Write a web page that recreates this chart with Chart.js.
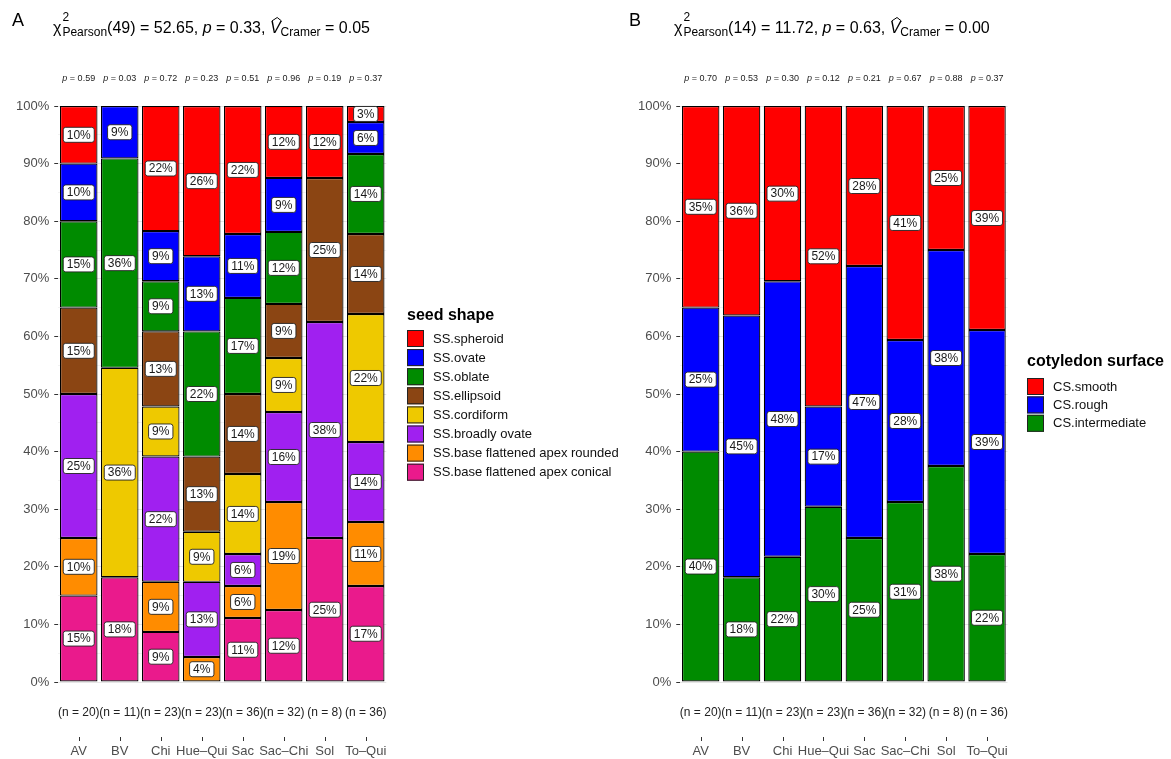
<!DOCTYPE html>
<html>
<head>
<meta charset="utf-8">
<script src="https://cdn.jsdelivr.net/npm/chart.js@4/dist/chart.umd.min.js"></script>
<style>
body { margin: 0; background: #fff; }
#wrap { position: relative; width: 1171px; height: 759px; }
canvas { position: absolute; top: 0; }
</style>
</head>
<body>
<div id="wrap">
    <canvas id="chartA" width="660" height="759" style="left:0px"></canvas>
    <canvas id="chartB" width="571" height="759" style="left:600px"></canvas>
</div>
<script>
// categories + per-site info
var sites = ['AV', 'BV', 'Chi', 'Hue–Qui', 'Sac', 'Sac–Chi', 'Sol', 'To–Qui'];
var sampleSizes = [20, 11, 23, 23, 36, 32, 8, 36];
var pShape = ['0.59', '0.03', '0.72', '0.23', '0.51', '0.96', '0.19', '0.37'];
var pSurface = ['0.70', '0.53', '0.30', '0.12', '0.21', '0.67', '0.88', '0.37'];

// seed shape (% per site), listed top of stack -> bottom
var shapeNames = ['SS.spheroid', 'SS.ovate', 'SS.oblate', 'SS.ellipsoid', 'SS.cordiform',
    'SS.broadly ovate', 'SS.base flattened apex rounded', 'SS.base flattened apex conical'];
var shapeColors = ['#ff0000', '#0000ff', '#008b00', '#8b4513', '#eec900', '#a020f0', '#ff8c00', '#ea1a8c'];
var ssSpheroid  = [10, 0, 21.74, 26.09, 22.22, 12.5, 12.5, 2.78];
var ssOvate     = [10, 9.09, 8.70, 13.04, 11.11, 9.38, 0, 5.56];
var ssOblate    = [15, 36.36, 8.70, 21.74, 16.67, 12.5, 0, 13.89];
var ssEllipsoid = [15, 0, 13.04, 13.04, 13.89, 9.38, 25, 13.89];
var ssCordiform = [0, 36.36, 8.70, 8.70, 13.89, 9.38, 0, 22.22];
var ssBroadly   = [25, 0, 21.74, 13.04, 5.56, 15.63, 37.5, 13.89];
var ssRounded   = [10, 0, 8.70, 4.35, 5.56, 18.75, 0, 11.11];
var ssConical   = [15, 18.18, 8.70, 0, 11.11, 12.5, 25, 16.67];

// cotyledon surface (% per site), top -> bottom
var surfNames = ['CS.smooth', 'CS.rough', 'CS.intermediate'];
var surfColors = ['#ff0000', '#0000ff', '#008b00'];
var csSmooth       = [35, 36.36, 30.43, 52.17, 27.78, 40.63, 25, 38.89];
var csRough        = [25, 45.45, 47.83, 17.39, 47.22, 28.13, 37.5, 38.89];
var csIntermediate = [40, 18.18, 21.74, 30.43, 25, 31.25, 37.5, 22.22];

var FONT = '"Liberation Sans", Arial, Helvetica, sans-serif';
Chart.defaults.font.family = FONT;

// R style rounding (half to even)
function pctLabel(v) {
    var f = Math.floor(v);
    var r = Math.round(v);
    if (Math.abs(v - f - 0.5) < 1e-9) {
        r = (f % 2 === 0) ? f : f + 1;
    }
    return r + '%';
}

function drawBarLabels(chart) {
    var ctx = chart.ctx;
    ctx.save();
    ctx.font = '12px ' + FONT;
    ctx.textAlign = 'center';
    ctx.textBaseline = 'middle';
    chart.data.datasets.forEach(function(ds, i) {
        var meta = chart.getDatasetMeta(i);
        meta.data.forEach(function(bar, j) {
            var v = ds.data[j];
            if (!v) return;
            var txt = pctLabel(v);
            var cy = (bar.y + bar.base) / 2;
            var w = ctx.measureText(txt).width + 7;
            var h = 15;
            ctx.beginPath();
            ctx.roundRect(bar.x - w / 2, cy - h / 2, w, h, 2.5);
            ctx.fillStyle = '#fff';
            ctx.fill();
            ctx.lineWidth = 0.9;
            ctx.strokeStyle = '#222';
            ctx.stroke();
            ctx.fillStyle = '#1a1a1a';
            ctx.fillText(txt, bar.x, cy + 0.5);
        });
    });
    ctx.restore();
}

function drawTitle(ctx, x, y, df, stat, p, v) {
    var big = '16px ' + FONT, small = '12px ' + FONT, bigIt = 'italic 16px ' + FONT;
    ctx.fillStyle = '#000';
    ctx.textAlign = 'left';
    ctx.textBaseline = 'alphabetic';
    ctx.font = big;
    ctx.fillText('χ', x, y);
    x += ctx.measureText('χ').width + 1;
    ctx.font = small;
    ctx.fillText('2', x, y - 12);
    ctx.fillText('Pearson', x, y + 3);
    x += ctx.measureText('Pearson').width;
    ctx.font = big;
    var s = '(' + df + ') = ' + stat + ', ';
    ctx.fillText(s, x, y);
    x += ctx.measureText(s).width;
    ctx.font = bigIt;
    ctx.fillText('p', x, y);
    x += ctx.measureText('p').width;
    ctx.font = big;
    s = ' = ' + p + ', ';
    ctx.fillText(s, x, y);
    x += ctx.measureText(s).width;
    ctx.font = bigIt;
    ctx.fillText('V', x, y);
    var vw = ctx.measureText('V').width;
    // hat over V
    ctx.beginPath();
    ctx.moveTo(x + 2, y - 12);
    ctx.lineTo(x + vw / 2 + 2, y - 15.5);
    ctx.lineTo(x + vw + 1, y - 12);
    ctx.lineWidth = 1;
    ctx.strokeStyle = '#000';
    ctx.stroke();
    x += vw;
    ctx.font = small;
    ctx.fillText('Cramer', x, y + 3);
    x += ctx.measureText('Cramer').width;
    ctx.font = big;
    ctx.fillText(' = ' + v, x, y);
}

function drawLegend(ctx, x, titleY, title, names, colors, firstTop, step) {
    ctx.textAlign = 'left';
    ctx.textBaseline = 'middle';
    ctx.font = 'bold 16px ' + FONT;
    ctx.fillStyle = '#000';
    ctx.fillText(title, x, titleY);
    names.forEach(function(n, i) {
        var top = firstTop + i * step;
        ctx.fillStyle = colors[i];
        ctx.fillRect(x, top, 17, 17);
        ctx.strokeStyle = '#222';
        ctx.lineWidth = 1;
        ctx.strokeRect(x + 0.5, top + 0.5, 16, 16);
        ctx.fillStyle = '#111';
        ctx.font = '13px ' + FONT;
        ctx.fillText(n, x + 26, top + 9);
    });
}

function makeDecor(cfg) {
    return {
        id: 'decor',
        afterDatasetsDraw: function(chart) {
            drawBarLabels(chart);
        },
        afterDraw: function(chart) {
            var ctx = chart.ctx;
            var xs = chart.scales.x;
            ctx.save();
            // panel letter + title
            ctx.font = '18px ' + FONT;
            ctx.fillStyle = '#000';
            ctx.textBaseline = 'alphabetic';
            ctx.fillText(cfg.letter, cfg.letterX, 25.5);
            drawTitle(ctx, cfg.titleX, 33, cfg.df, cfg.stat, cfg.p, cfg.v);

            ctx.textBaseline = 'alphabetic';
            sites.forEach(function(site, i) {
                var x = xs.getPixelForValue(i);
                // p-values above bars
                ctx.font = 'italic 9px ' + FONT;
                var w1 = ctx.measureText('p').width;
                ctx.font = '9px ' + FONT;
                var rest = ' = ' + cfg.pvals[i];
                var w2 = ctx.measureText(rest).width;
                var x0 = x - (w1 + w2) / 2;
                ctx.fillStyle = '#222';
                ctx.textAlign = 'left';
                ctx.font = 'italic 9px ' + FONT;
                ctx.fillText('p', x0, 81);
                ctx.font = '9px ' + FONT;
                ctx.fillText(rest, x0 + w1, 81);

                // sample sizes
                ctx.textAlign = 'center';
                ctx.font = '12px ' + FONT;
                ctx.fillStyle = '#222';
                ctx.fillText('(n = ' + sampleSizes[i] + ')', x, 716);

                // x tick + label
                ctx.strokeStyle = '#333';
                ctx.lineWidth = 1;
                ctx.beginPath();
                ctx.moveTo(Math.round(x) + 0.5, 737);
                ctx.lineTo(Math.round(x) + 0.5, 741);
                ctx.stroke();
                ctx.font = '13px ' + FONT;
                ctx.fillStyle = '#4d4d4d';
                ctx.fillText(site, x, 755);
            });

            drawLegend(ctx, cfg.legendX, cfg.legendTitleY, cfg.legendTitle, cfg.names, cfg.colors, cfg.keyTop, cfg.keyStep);
            ctx.restore();
        }
    };
}

function gridColor(c) {
    return c.tick && c.tick.value % 10 === 0 ? '#e6e6e6' : '#f2f2f2';
}

function tickColor(c) {
    return c.tick && c.tick.value % 10 === 0 ? '#333' : 'rgba(0,0,0,0)';
}

function makeChart(canvasId, seriesTopDown, names, colors, padLeft, padRight, decor) {
    var datasets = [];
    // Chart.js stacks first dataset at the bottom
    for (var i = names.length - 1; i >= 0; i--) {
        datasets.push({
            label: names[i],
            data: seriesTopDown[i],
            backgroundColor: colors[i],
            borderColor: '#000',
            borderWidth: 1.2,
            borderSkipped: false,
            barPercentage: 0.915,
            categoryPercentage: 1
        });
    }
    return new Chart(document.getElementById(canvasId), {
        type: 'bar',
        data: { labels: sites, datasets: datasets },
        options: {
            responsive: false,
            animation: false,
            layout: { padding: { left: padLeft, right: padRight, top: 106, bottom: 77 } },
            plugins: { legend: { display: false }, tooltip: { enabled: false } },
            scales: {
                x: { stacked: true, display: false },
                y: {
                    stacked: true,
                    min: 0,
                    max: 100,
                    afterFit: function(scale) { scale.width = 58.25; },
                    border: { display: false },
                    grid: { color: gridColor, tickColor: tickColor, tickLength: 4 },
                    ticks: {
                        stepSize: 5,
                        autoSkip: false,
                        padding: 5,
                        color: '#4d4d4d',
                        font: { size: 13 },
                        callback: function(v) { return v % 10 === 0 ? v + '%' : ''; }
                    }
                }
            }
        },
        plugins: [decor]
    });
}

makeChart('chartA',
    [ssSpheroid, ssOvate, ssOblate, ssEllipsoid, ssCordiform, ssBroadly, ssRounded, ssConical],
    shapeNames, shapeColors, 0, 273.75,
    makeDecor({
        letter: 'A', letterX: 12, titleX: 53,
        df: 49, stat: '52.65', p: '0.33', v: '0.05',
        pvals: pShape,
        legendX: 407, legendTitleY: 316, legendTitle: 'seed shape',
        names: shapeNames, colors: shapeColors, keyTop: 330, keyStep: 19.1
    }));

makeChart('chartB',
    [csSmooth, csRough, csIntermediate],
    surfNames, surfColors, 22, 163.5,
    makeDecor({
        letter: 'B', letterX: 29, titleX: 74,
        df: 14, stat: '11.72', p: '0.63', v: '0.00',
        pvals: pSurface,
        legendX: 427, legendTitleY: 362, legendTitle: 'cotyledon surface',
        names: surfNames, colors: surfColors, keyTop: 378, keyStep: 18.4
    }));
</script>
</body>
</html>
